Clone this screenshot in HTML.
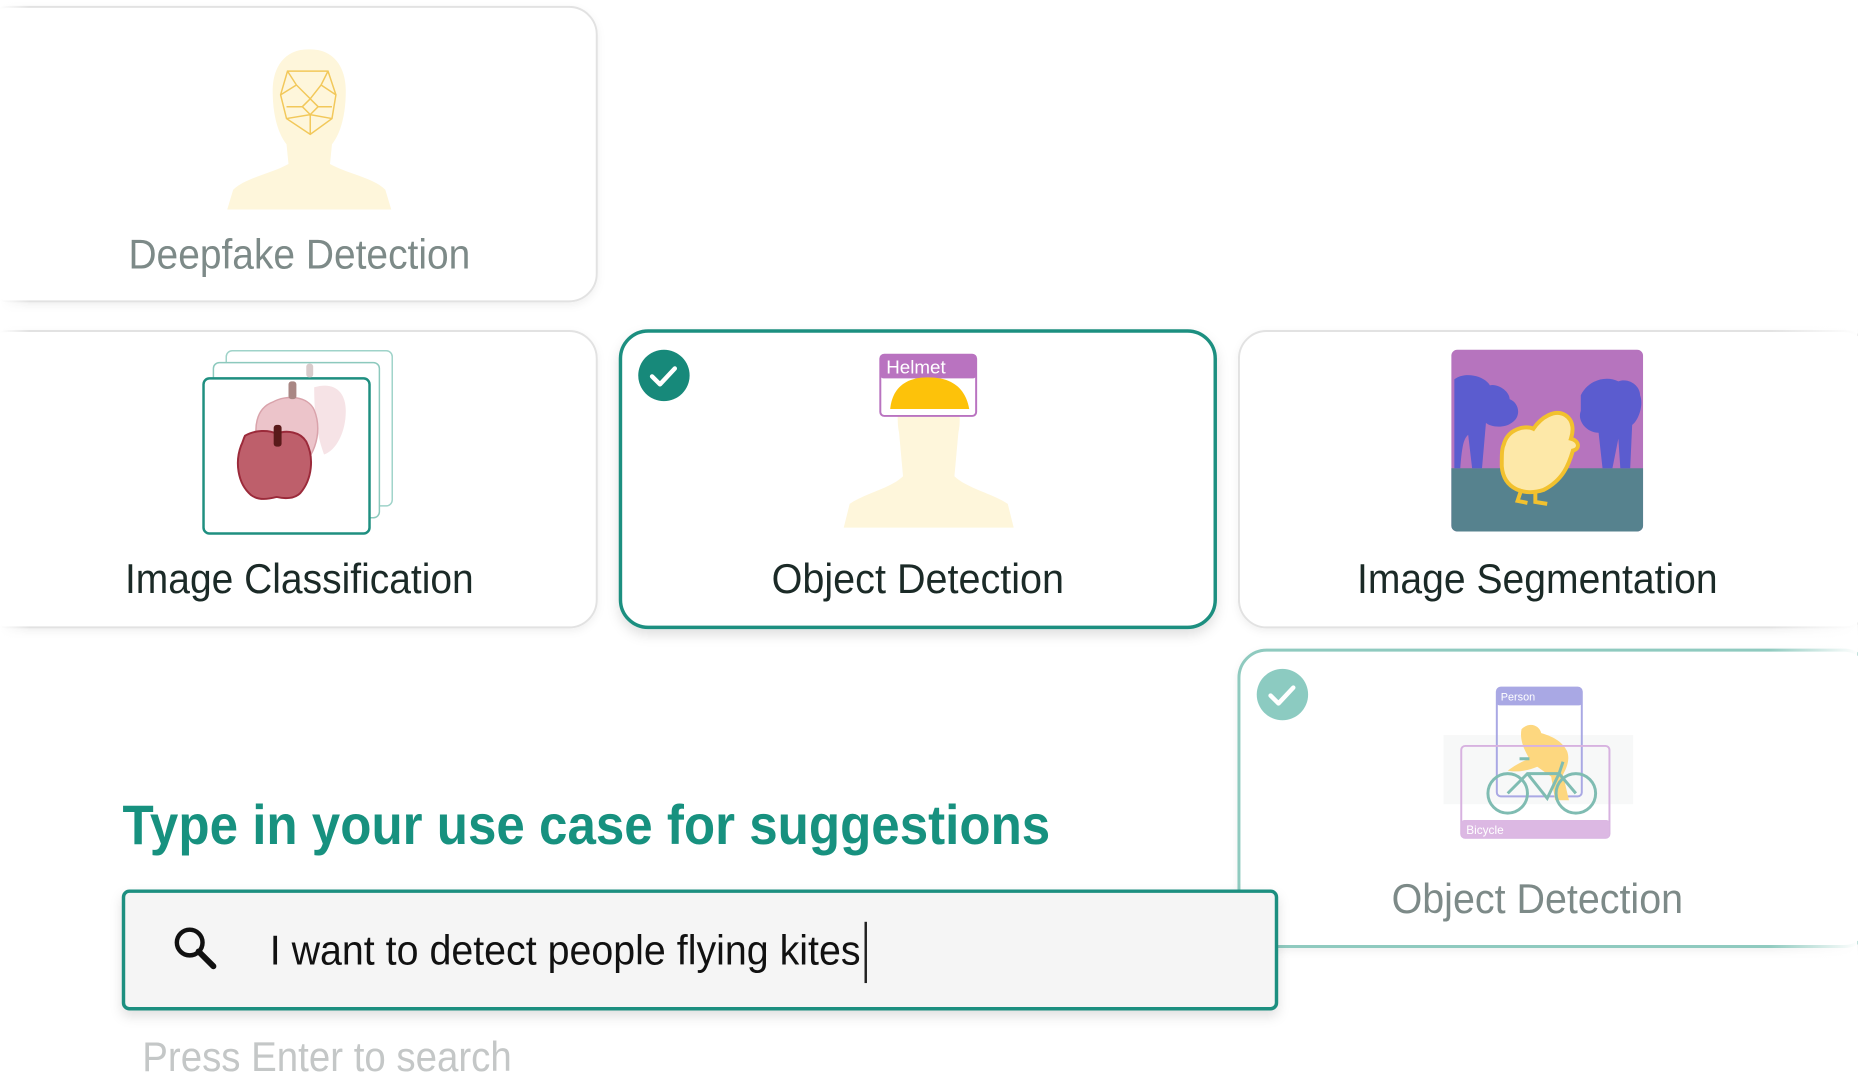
<!DOCTYPE html>
<html><head><meta charset="utf-8"><style>
html,body{margin:0;padding:0;background:#fff;width:1858px;height:1080px;overflow:hidden}
svg{display:block}
text{font-family:"Liberation Sans",sans-serif}
</style></head><body>
<svg width="1858" height="1080" viewBox="0 0 1858 1080" xmlns="http://www.w3.org/2000/svg">
<defs>
<filter id="sh" x="-10%" y="-10%" width="120%" height="130%"><feDropShadow dx="0" dy="6" stdDeviation="6" flood-color="#000" flood-opacity="0.12"/></filter>
<filter id="sh2" x="-10%" y="-10%" width="120%" height="130%"><feDropShadow dx="0" dy="3" stdDeviation="4" flood-color="#000" flood-opacity="0.06"/></filter>
<linearGradient id="fadeL" x1="0" x2="1"><stop offset="0" stop-color="#fff" stop-opacity="1"/><stop offset="1" stop-color="#fff" stop-opacity="0"/></linearGradient>
<linearGradient id="fadeR" x1="0" x2="1"><stop offset="0" stop-color="#fff" stop-opacity="0"/><stop offset="1" stop-color="#fff" stop-opacity="1"/></linearGradient>
</defs>
<g transform="scale(0.988)">
<!-- Deepfake card -->
<rect x="-20" y="7" width="624" height="298" rx="28" fill="#fff" stroke="#e2e2e2" stroke-width="2" filter="url(#sh2)"/>
<path d="M312 50 c-24 0 -36 18 -36 42 c0 26 6 44 14 54 l2 20 c-18 10 -44 14 -56 26 l-6 20 h166 l-6 -20 c-12 -12 -38 -16 -56 -26 l2 -20 c8 -10 14 -28 14 -54 c0 -24 -12 -42 -36 -42z" fill="#fef6db"/>
<g stroke="#f2c85a" stroke-width="1.5" fill="none">
<path d="M291 72 L332 72 L340 96 L336 120 L314 136 L290 120 L284 96 Z M291 72 L300 86 L314 100 L325 86 L332 72 M284 96 L300 86 M340 96 L325 86 M290 108 L306 108 L314 100 L322 108 L336 108 M306 108 L314 116 L322 108 M314 116 L314 136 M290 120 L314 116 L336 120"/>
</g>
<text x="303" y="272" font-size="42" fill="#7d8a88" text-anchor="middle" textLength="346" lengthAdjust="spacingAndGlyphs">Deepfake Detection</text>

<!-- Image classification -->
<rect x="-20" y="335" width="624" height="300" rx="28" fill="#fff" stroke="#e2e2e2" stroke-width="2" filter="url(#sh2)"/>
<rect x="229" y="355" width="168" height="157" rx="6" fill="#fff" stroke="#9fd3c9" stroke-width="1.5"/>
<rect x="216" y="367" width="168" height="157" rx="6" fill="#fff" stroke="#8cc9bd" stroke-width="1.5"/>
<rect x="206" y="383" width="168" height="157" rx="6" fill="#fff" stroke="#1f8f80" stroke-width="2.5"/>
<path d="M318 392 c20 -6 32 4 32 24 c0 22 -10 40 -22 44 c-4 -12 -10 -28 -10 -68z" fill="#f6e3e6"/>
<path d="M276 407 c14 -8 36 -6 42 8 c10 24 -2 54 -20 60 c-14 4 -28 -2 -34 -18 c-10 -24 -4 -44 12 -50z" fill="#ecc4ca" stroke="#d9a3ab" stroke-width="1.5"/>
<rect x="310" y="368" width="7" height="14" rx="3" fill="#d8cbcb"/>
<rect x="292" y="386" width="8" height="18" rx="3" fill="#a98784"/>
<path d="M248 441 c10 -6 24 -6 32 -2 c10 -4 24 -2 30 8 c8 16 6 38 -6 52 c-6 6 -16 6 -24 4 c-8 2 -18 4 -26 -2 c-14 -12 -16 -34 -10 -50 c2 -4 2 -6 4 -10z" fill="#be5f6b" stroke="#9b2a3a" stroke-width="2"/>
<rect x="277" y="430" width="8" height="22" rx="3" fill="#5a1a1a"/>
<text x="303" y="600" font-size="42" fill="#1b2a27" text-anchor="middle" textLength="353" lengthAdjust="spacingAndGlyphs">Image Classification</text>

<!-- Object detection (selected) -->
<rect x="628" y="335" width="602" height="300" rx="28" fill="#fff" stroke="#1f8f80" stroke-width="3.5" filter="url(#sh)"/>
<circle cx="672" cy="380" r="26" fill="#17897a"/>
<path d="M660 381 l8 8 l15 -16" stroke="#fff" stroke-width="4.5" fill="none" stroke-linecap="round" stroke-linejoin="round"/>
<path d="M912 400 c0 0 -6 20 -2 38 l4 44 c-12 12 -40 18 -54 28 l-6 24 h172 l-6 -24 c-14 -10 -42 -16 -54 -28 l4 -44 c4 -18 -2 -38 -2 -38z" fill="#fef6db"/>
<rect x="891" y="359" width="97" height="62" rx="4" fill="#fff" stroke="#b973c0" stroke-width="2"/>
<rect x="891" y="359" width="97" height="24" rx="3" fill="#b973c0"/>
<text x="897" y="378" font-size="19" fill="#fff">Helmet</text>
<path d="M901 414 c2 -20 14 -32 38 -32 c24 0 38 10 42 32z" fill="#fdc20a"/>
<text x="929" y="600" font-size="42" fill="#1b2a27" text-anchor="middle" textLength="296" lengthAdjust="spacingAndGlyphs">Object Detection</text>

<!-- Image segmentation -->
<rect x="1254" y="335" width="640" height="300" rx="28" fill="#fff" stroke="#e2e2e2" stroke-width="2" filter="url(#sh2)"/>
<rect x="1469" y="354" width="194" height="184" rx="6" fill="#b674be"/>
<path d="M1469 474 h194 v58 a6 6 0 0 1 -6 6 h-182 a6 6 0 0 1 -6 -6z" fill="#56828e"/>
<g fill="#5b5ccf">
<path d="M1472 384 c10 -8 30 -4 36 6 c8 -2 20 6 20 14 c10 4 12 18 2 24 c-8 6 -22 4 -26 0 l-4 46 h-10 l-4 -34 c-4 4 -6 8 -8 34 h-6z"/>
<path d="M1600 400 c8 -16 26 -20 38 -14 c10 -4 22 4 22 14 c4 10 -2 26 -8 30 l-2 44 h-10 l-2 -30 l-6 30 h-10 l-4 -36 c-12 0 -22 -12 -18 -22z"/>
</g>
<path d="M1522 450 c4 -16 22 -20 30 -16 c8 -12 22 -20 32 -14 c10 6 8 18 6 24 c8 2 10 10 2 12 c-4 14 -10 30 -30 40 c-18 6 -40 0 -42 -24 c0 -12 0 -18 2 -22z" fill="#fde8a8" stroke="#f2c12e" stroke-width="4"/>
<path d="M1540 495 l-4 12 l10 2 M1554 496 l0 12 l12 2" stroke="#f2c12e" stroke-width="4" fill="none"/>
<text x="1556" y="600" font-size="42" fill="#1b2a27" text-anchor="middle" textLength="365" lengthAdjust="spacingAndGlyphs">Image Segmentation</text>

<!-- Card 4 -->
<rect x="1254" y="658" width="640" height="300" rx="28" fill="#fff" stroke="#8fcabf" stroke-width="3" filter="url(#sh2)"/>
<circle cx="1298" cy="703" r="26" fill="#8ccbc1"/>
<path d="M1286 704 l8 8 l15 -16" stroke="#fff" stroke-width="4.5" fill="none" stroke-linecap="round" stroke-linejoin="round"/>
<rect x="1461" y="744" width="192" height="70" fill="#f7f8f8"/>
<rect x="1515" y="696" width="86" height="110" rx="4" fill="none" stroke="#a9a8e4" stroke-width="2"/>
<rect x="1515" y="696" width="86" height="18" rx="3" fill="#a9a8e4"/>
<text x="1519" y="709" font-size="11" fill="#fff">Person</text>
<path d="M1540 738 c8 -8 18 -4 20 4 c14 4 22 10 26 18 c4 10 -2 20 -4 24 l6 26 h-14 l-4 -24 l-14 -10 c-10 4 -20 6 -30 4 c8 -6 16 -10 22 -12 c-6 -10 -10 -20 -8 -30z" fill="#fdd77f"/>
<rect x="1479" y="755" width="150" height="93" rx="4" fill="none" stroke="#d7b2e0" stroke-width="2"/>
<rect x="1479" y="830" width="150" height="18" rx="3" fill="#dcb8e3"/>
<text x="1484" y="844" font-size="12" fill="#fff">Bicycle</text>
<g stroke="#7fbcb2" stroke-width="3" fill="none">
<circle cx="1526" cy="803" r="20"/><circle cx="1595" cy="803" r="20"/>
<path d="M1526 803 l20 -20 h32 l17 20 M1546 783 l20 25 l12 -25 M1538 768 h10 M1578 783 l4 -12"/>
</g>
<text x="1556" y="924" font-size="42" fill="#7d8a88" text-anchor="middle" textLength="295" lengthAdjust="spacingAndGlyphs">Object Detection</text>

<rect x="1790" y="320" width="90" height="660" fill="url(#fadeR)"/>
<rect x="0" y="0" width="30" height="660" fill="url(#fadeL)"/>

<text x="124" y="854" font-size="56" font-weight="bold" fill="#17917f" textLength="939" lengthAdjust="spacingAndGlyphs">Type in your use case for suggestions</text>

<rect x="125" y="902" width="1167" height="119" rx="6" fill="#f5f5f5" stroke="#1f8f80" stroke-width="3.5" filter="url(#sh)"/>
<circle cx="192" cy="954" r="13" fill="none" stroke="#111" stroke-width="4.5"/>
<path d="M201 963 l15 15" stroke="#111" stroke-width="6" stroke-linecap="round"/>
<text x="273" y="976" font-size="42" fill="#111" textLength="598" lengthAdjust="spacingAndGlyphs">I want to detect people flying kites</text>
<rect x="875" y="933" width="2.5" height="62" fill="#222"/>

<text x="144" y="1084" font-size="42" fill="#c4c7c7" textLength="374" lengthAdjust="spacingAndGlyphs">Press Enter to search</text>
</g>
</svg>
</body></html>
